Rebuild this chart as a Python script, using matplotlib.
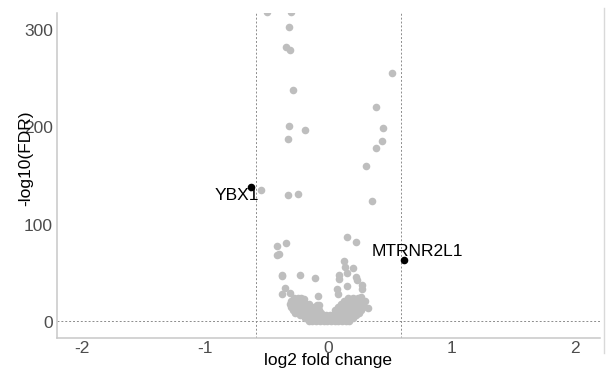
import matplotlib
matplotlib.use("Agg")
import matplotlib.pyplot as plt
from matplotlib.lines import Line2D

plt.rcParams['font.family'] = ['Liberation Sans', 'DejaVu Sans']
plt.rcParams['axes.unicode_minus'] = False

# scattered (non-labelled) genes: log2 fold change, -log10(FDR)
outlier_x = [-0.50, -0.30, -0.32, -0.34, -0.31, 0.515, -0.286, 0.389, -0.32, -0.19,
             0.443, -0.324, 0.432, 0.383, 0.308, -0.545, -0.33, -0.25, 0.351, -0.416,
             -0.343, -0.42, -0.40, 0.148, 0.22, -0.375, -0.38, -0.23, -0.11, 0.13,
             0.138, 0.197, 0.151, 0.089, 0.089, 0.22, 0.23, -0.38, -0.35, -0.31,
             -0.087, 0.15, 0.27, 0.275, 0.07, 0.075, 0.30, 0.32, -0.09, -0.20,
             -0.08, 0.26]
outlier_y = [318, 318, 303, 282, 279, 256, 238, 221, 201.5, 197,
             199.5, 188, 186, 179, 160.5, 136, 131, 132, 124, 78,
             81, 69, 70.5, 87, 82.5, 49, 47, 49, 45, 63,
             57, 56, 50.6, 48, 44, 46, 43, 29, 35.6, 30,
             27, 37, 38.7, 34, 34, 29.5, 21.5, 15, 17.5, 24,
             18, 26]

# dense cluster of non-significant genes
cluster_x = [
    -0.16, -0.13, -0.10, -0.07, -0.04, -0.01, 0.02, 0.05, 0.08, 0.11, 0.14, 0.17,
    -0.19, -0.16, -0.13, -0.10, -0.07, -0.04, -0.01, 0.02, 0.05, 0.08, 0.11, 0.14, 0.17, 0.20,
    -0.23, -0.20, -0.17, -0.14, -0.11, -0.08, -0.05, -0.02, 0.01, 0.04, 0.07, 0.10, 0.13, 0.16, 0.19, 0.22,
    -0.27, -0.24, -0.21, -0.18, -0.15, -0.12, -0.09, -0.06, 0.07, 0.10, 0.13, 0.16, 0.19, 0.22, 0.25,
    -0.29, -0.26, -0.23, -0.20, -0.17, -0.14, -0.11, -0.08, 0.05, 0.08, 0.11, 0.14, 0.17, 0.20, 0.23, 0.26,
    -0.30, -0.27, -0.24, -0.21, -0.18, -0.15, -0.12, 0.08, 0.11, 0.14, 0.17, 0.20, 0.23, 0.26, 0.28,
    -0.31, -0.28, -0.25, -0.22, -0.19, -0.16, 0.10, 0.13, 0.16, 0.19, 0.22, 0.25, 0.28,
    -0.30, -0.27, -0.24, -0.21, 0.13, 0.16, 0.19, 0.22, 0.25, 0.27,
    -0.28, -0.25, -0.22, 0.16, 0.20, 0.24,
]
cluster_y = [
    1, 1, 1, 1, 1, 1, 1, 1, 1, 1, 1, 1,
    4, 4, 4, 4, 4, 4, 4, 4, 4, 4, 4, 4, 4, 4,
    7, 7, 7, 7, 7, 7, 7, 7, 7, 7, 7, 7, 7, 7, 7, 7,
    10, 10, 10, 10, 10, 10, 10, 10, 10, 10, 10, 10, 10, 10, 10,
    13, 13, 13, 13, 13, 13, 13, 13, 13, 13, 13, 13, 13, 13, 13, 13,
    16, 16, 16, 16, 16, 16, 16, 16, 16, 16, 16, 16, 16, 16, 16,
    19, 19, 19, 19, 19, 19, 19, 19, 19, 19, 19, 19, 19,
    22, 22, 22, 22, 22, 22, 22, 22, 22, 22,
    25, 25, 25, 25, 25, 25,
]

# labelled genes
label_names = ["YBX1", "MTRNR2L1"]
label_x = [-0.626, 0.61]
label_y = [139, 64]

fc_cut = 0.585
fdr_line = 1.3

xticks = [-2, -1, 0, 1, 2]
yticks = [0, 100, 200, 300]

fig = plt.figure(figsize=(6.06, 3.73), dpi=100)
ax = fig.add_axes([0.094, 0.094, 0.896, 0.871])

grey_pt = "#bebebe"
ax.scatter(cluster_x, cluster_y, s=30, color=grey_pt, linewidths=0, zorder=2)
ax.scatter(outlier_x, outlier_y, s=30, color=grey_pt, linewidths=0, zorder=2)
ax.scatter(label_x, label_y, s=30, color="black", linewidths=0, zorder=3)

ax.axvline(-fc_cut, color="#8c8c8c", lw=0.7, ls=(0, (2, 2)), zorder=1)
ax.axvline(fc_cut, color="#8c8c8c", lw=0.7, ls=(0, (2, 2)), zorder=1)
ax.axhline(fdr_line, color="#8c8c8c", lw=0.7, ls=(0, (2, 2)), zorder=1)

ax.text(-0.745, 130, label_names[0], fontsize=12.5, ha="center", va="center", zorder=4)
ax.text(0.717, 73, label_names[1], fontsize=12.5, ha="center", va="center", zorder=4)

ax.set_xlim(-2.2, 2.2)
ax.set_ylim(-16, 317)
ax.set_xticks(xticks)
ax.set_yticks(yticks)
ax.tick_params(length=0, labelsize=12.5, labelcolor="#4d4d4d")
ax.tick_params(axis="x", pad=2)
ax.tick_params(axis="y", pad=3)

for s in ["top", "right"]:
    ax.spines[s].set_visible(False)
for s in ["left", "bottom"]:
    ax.spines[s].set_color("#c8c8c8")
    ax.spines[s].set_linewidth(1.1)

ax.set_xlabel("log2 fold change", fontsize=12.5, labelpad=-2)
ax.set_ylabel("-log10(FDR)", fontsize=12.5)
ax.yaxis.set_label_coords(-0.044, 0.554)

fig.add_artist(Line2D([604 / 606, 604 / 606], [20 / 373, 1 - 8 / 373],
                      transform=fig.transFigure, color="#d9d9d9", lw=1))

fig.savefig("out.png", dpi=100)
